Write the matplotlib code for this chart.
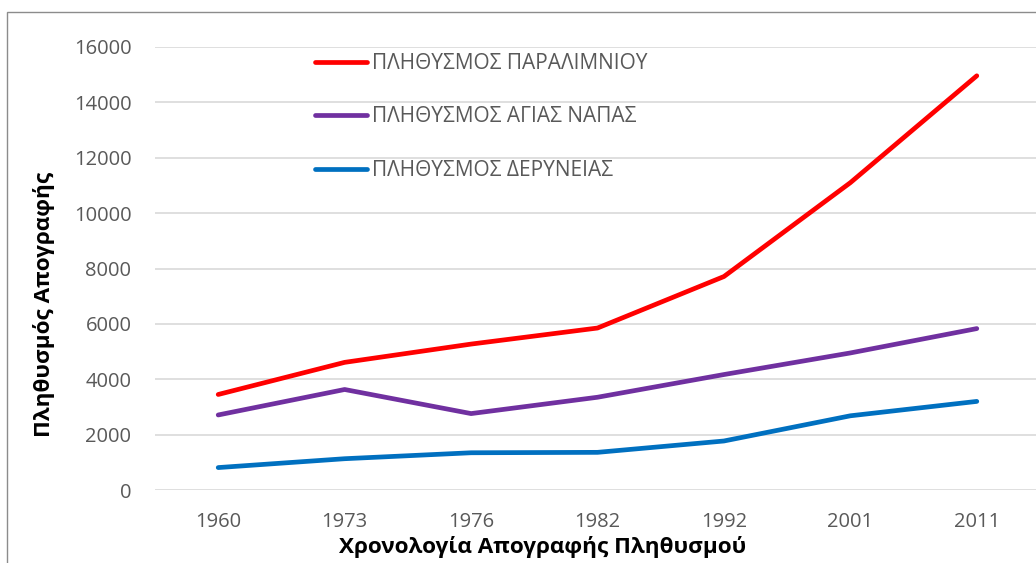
import matplotlib
matplotlib.use("Agg")
import matplotlib.pyplot as plt
from matplotlib.patches import Rectangle

plt.rcParams['font.family'] = ['Open Sans', 'DejaVu Sans']

years = ["1960", "1973", "1976", "1982", "1992", "2001", "2011"]
paralimni = [3450, 4610, 5270, 5850, 7710, 11100, 14960]
agia_napa = [2710, 3630, 2760, 3350, 4170, 4950, 5830]
deryneia = [810, 1130, 1345, 1360, 1770, 2680, 3200]

series_labels = ["ΠΛΗΘΥΣΜΟΣ ΠΑΡΑΛΙΜΝΙΟΥ", "ΠΛΗΘΥΣΜΟΣ ΑΓΙΑΣ ΝΑΠΑΣ", "ΠΛΗΘΥΣΜΟΣ ΔΕΡΥΝΕΙΑΣ"]
colors = ["#FF0000", "#7030A0", "#0070C0"]
yticks = [0, 2000, 4000, 6000, 8000, 10000, 12000, 14000, 16000]

W, H = 1036, 563
fig = plt.figure(figsize=(W / 100, H / 100), dpi=100)
fig.patch.set_facecolor("white")

# outer chart border (cropped on right/bottom)
fig.patches.append(Rectangle((7 / W, -0.1), 1.2, 1 - 12 / H + 0.1, transform=fig.transFigure,
                             fill=False, edgecolor="#8C8C8C", linewidth=1.0))

ax = fig.add_axes([155 / W, 1 - 490 / H, 885 / W, (490 - 47) / H])
x = list(range(len(years)))
for vals, lab, c in zip([paralimni, agia_napa, deryneia], series_labels, colors):
    ax.plot(x, vals, color=c, linewidth=3.4, label=lab, solid_capstyle="round",
            solid_joinstyle="round", clip_on=False)

ax.set_xlim(-0.5, len(years) - 0.5)
ax.set_ylim(0, 16000)
ax.set_xticks(x)
ax.set_xticklabels(years)
ax.set_yticks(yticks)
ax.set_yticklabels([str(v) for v in yticks])
ax.yaxis.grid(True, color="#D9D9D9", linewidth=1.2)
ax.set_axisbelow(True)
for s in ax.spines.values():
    s.set_visible(False)
ax.tick_params(axis="both", length=0, labelsize=14.5, colors="#595959")
ax.tick_params(axis="y", pad=17)
ax.tick_params(axis="x", pad=16)

ax.set_xlabel("Χρονολογία Απογραφής Πληθυσμού", fontsize=16.2, fontweight="bold", color="black", labelpad=3)
ax.xaxis.set_label_coords(0.438, -0.103)
ax.set_ylabel("Πληθυσμός Απογραφής", fontsize=16.2, fontweight="bold", color="black", labelpad=13)
ax.yaxis.set_label_coords(-0.113, 0.42)

leg = ax.legend(loc="upper left", bbox_to_anchor=(315 / W, 1 - 53 / H), bbox_transform=fig.transFigure,
                frameon=False, fontsize=15, handlelength=2.5, handletextpad=0.25,
                labelspacing=1.56, borderpad=0, borderaxespad=0)
for t in leg.get_texts():
    t.set_color("#595959")
for l in leg.get_lines():
    l.set_linewidth(3.4)

fig.savefig("out.png", dpi=100)
